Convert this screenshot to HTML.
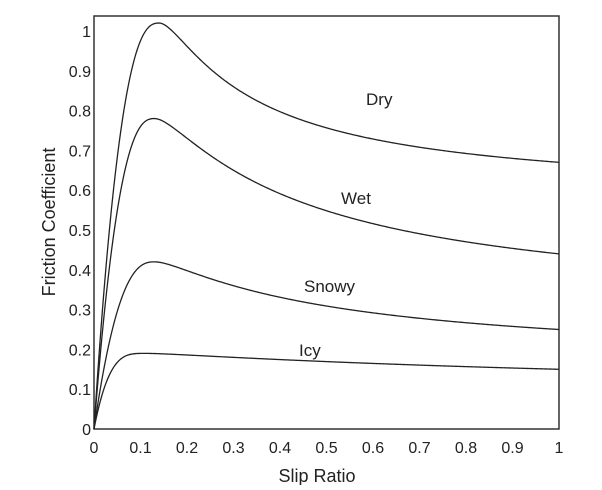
<!DOCTYPE html>
<html><head><meta charset="utf-8"><style>
body{margin:0;background:#fff}
svg text{font-family:"Liberation Sans",Arial,sans-serif;fill:#222}
</style></head><body>
<svg id="s" width="602" height="485" xmlns="http://www.w3.org/2000/svg">
<rect x="94" y="16" width="465" height="413" fill="none" stroke="#333" stroke-width="1.5"/>
<g font-size="16" text-anchor="end" id="yl"></g>
<g font-size="16" text-anchor="middle" id="xl"></g>
<g id="curves" fill="none" stroke="#222" stroke-width="1.3"></g>
<text x="366" y="105" font-size="17">Dry</text>
<text x="341" y="204" font-size="17">Wet</text>
<text x="304" y="292" font-size="17">Snowy</text>
<text x="299" y="356" font-size="17">Icy</text>
<text x="317" y="482" font-size="18" text-anchor="middle">Slip Ratio</text>
<text transform="translate(55,222) rotate(-90)" font-size="18" text-anchor="middle">Friction Coefficient</text>
</svg>
<script>
var X=function(s){return 94+465*s},Y=function(m){return 429-398*m};
var ns="http://www.w3.org/2000/svg";
function t(g,x,y,txt){var e=document.createElementNS(ns,"text");e.setAttribute("x",x);e.setAttribute("y",y);e.textContent=txt;document.getElementById(g).appendChild(e);}
for(var i=0;i<=10;i++){var v=i/10,l=(i==10?"1":i==0?"0":v.toFixed(1));t("yl",91,Y(v)+6,l);t("xl",X(v),453,l);}
var C=[[1.02,.14,.86,.67,2.5],[.78,.13,.65,.44,2.5],[.42,.13,.36,.25,2.5],[.19,.11,.18,.15,3.5]];
function w(u){return u*u/(u+.05);}
C.forEach(function(c){var P=c[0],sp=c[1],M=c[2],E=c[3],p=c[4];
var u1=w(.3-sp),u2=w(1-sp),r=(P-M)/(P-E);
var e=u1*u2*(1-r)/(r*u2-u1);var b=(P-M)/(1/e-1/(u1+e));var a=P-b/e;
var d="";for(var k=0;k<=400;k++){var s=k/400,m;
if(s<sp)m=P*(1-Math.pow(1-s/sp,p));else m=a+b/(w(s-sp)+e);
d+=(k?"L":"M")+X(s).toFixed(2)+" "+Y(m).toFixed(2);}
var pa=document.createElementNS(ns,"path");pa.setAttribute("d",d);document.getElementById("curves").appendChild(pa);});
</script>
</body></html>
